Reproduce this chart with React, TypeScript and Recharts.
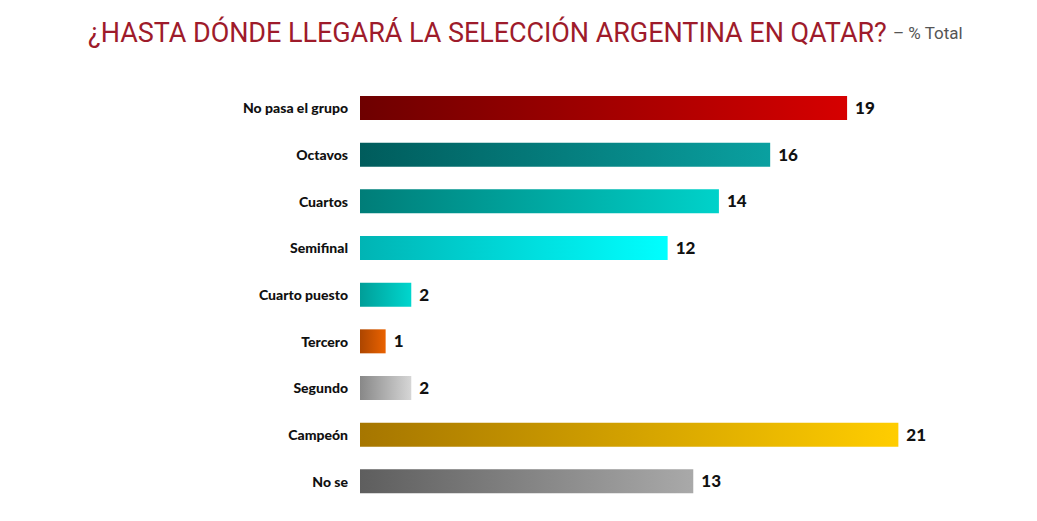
import { type ReactElement } from 'react';

import { Bar, BarChart, Cell, LabelList, XAxis, YAxis } from 'recharts';

const categories = [
  'No pasa el grupo',
  'Octavos',
  'Cuartos',
  'Semifinal',
  'Cuarto puesto',
  'Tercero',
  'Segundo',
  'Campeón',
  'No se',
];

const values = [19, 16, 14, 12, 2, 1, 2, 21, 13];

// gradient start/end colour for each bar (left -> right)
const gradientStops: [string, string][] = [
  ['#6e0000', '#d60000'],
  ['#005c5c', '#0aa0a0'],
  ['#007d78', '#00d2ca'],
  ['#00b4b4', '#00ffff'],
  ['#009e98', '#00d6ce'],
  ['#ad4600', '#ea6200'],
  ['#888888', '#d6d6d6'],
  ['#a67600', '#ffcd00'],
  ['#5e5e5e', '#a9a9a9'],
];

const data = categories.map((label, i) => ({ label, value: values[i] }));

const TITLE = '¿HASTA DÓNDE LLEGARÁ LA SELECCIÓN ARGENTINA EN QATAR?';
const SUBTITLE = '– % Total';

export default function App(): ReactElement {
  return (
    <div
      style={{
        position: 'absolute',
        left: 0,
        top: 0,
        width: 1037,
        height: 521,
        background: '#fff',
      }}
    >
      <svg width={1037} height={60} style={{ position: 'absolute', left: 0, top: 0 }}>
        <text
          x={88}
          y={42}
          fill="#9e1b2b"
          fontFamily="Roboto, sans-serif"
          fontSize={27}
          letterSpacing={-0.05}
        >
          {TITLE}
        </text>
        <text
          x={893}
          y={39}
          fill="#555"
          fontFamily="Roboto, sans-serif"
          fontSize={17}
        >
          {SUBTITLE}
        </text>
      </svg>
      <BarChart
        width={1037}
        height={521}
        data={data}
        layout="vertical"
        margin={{ top: 85, right: 113, bottom: 16, left: 0 }}
        barCategoryGap={0}
      >
        <defs>
          {gradientStops.map(([from, to], i) => (
            <linearGradient key={i} id={`grad-${i}`} x1="0" y1="0" x2="1" y2="0">
              <stop offset="0%" stopColor={from} />
              <stop offset="100%" stopColor={to} />
            </linearGradient>
          ))}
        </defs>
        <XAxis type="number" domain={[0, 22]} hide />
        <YAxis
          type="category"
          dataKey="label"
          width={360}
          axisLine={false}
          tickLine={false}
          tickSize={0}
          tickMargin={12}
          interval={0}
          tick={{ fill: '#111', fontSize: 14, fontWeight: 900, fontFamily: 'Lato, sans-serif' }}
        />
        <Bar dataKey="value" barSize={24} isAnimationActive={false}>
          {data.map((d, i) => (
            <Cell key={d.label} fill={`url(#grad-${i})`} />
          ))}
          <LabelList
            dataKey="value"
            position="right"
            offset={8}
            fill="#111"
            fontSize={17}
            fontWeight={900}
            fontFamily="Lato, sans-serif"
          />
        </Bar>
      </BarChart>
    </div>
  );
}
